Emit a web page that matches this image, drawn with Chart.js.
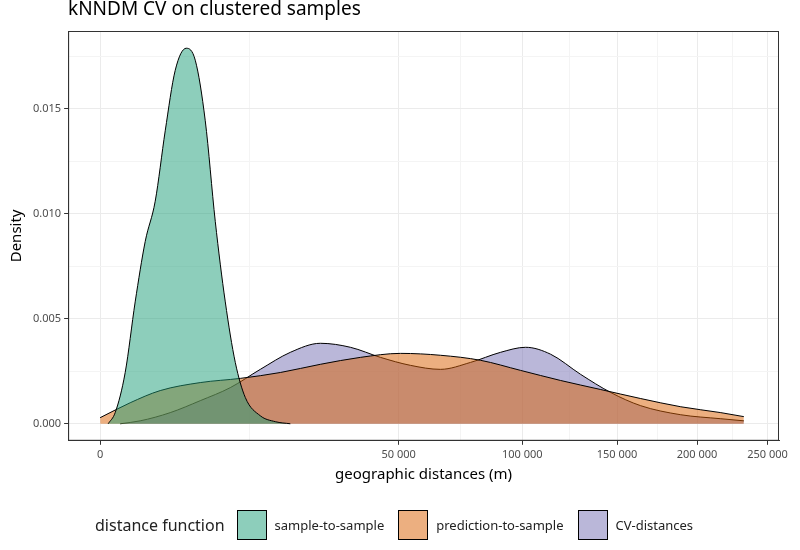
<!DOCTYPE html>
<html><head><meta charset="utf-8">
<script src="https://cdn.jsdelivr.net/npm/chart.js@4"></script>
<style>
body{margin:0;background:#fff;font-family:"Noto Sans",sans-serif;}
#wrap{position:relative;width:800px;height:550px;}
#ttl{position:absolute;left:68px;top:-5px;font-size:19px;color:#000;}
#leg{position:absolute;left:95px;top:510px;display:flex;align-items:center;font-size:13px;color:#222;}
#leg .t{font-size:16px;margin-right:12px;}
#leg .b{width:30px;height:30px;border:1px solid #000;box-sizing:border-box;margin-right:8px;}
#leg .l{margin-right:14px;}
</style></head>
<body><div id="wrap"><canvas id="c" width="800" height="550"></canvas>
<div id="ttl">kNNDM CV on clustered samples</div>
<div id="leg"><span class="t">distance function</span></div></div>
<script>
// distances in metres, density values
var sampleX = [36,127,352,689,1139,1702,2377,3164,4160,5077,6202,7439,8789,10252,11827,14400,17227,20306];
var sampleY = [0,0.00053,0.00244,0.0058,0.00867,0.01059,0.01394,0.01682,0.01787,0.0173,0.01442,0.00963,0.0058,0.00292,0.00125,0.00038,0.0001,0];
var predX = [0,506,2025,5625,11025,18225,27225,38025,50625,65025,81225,99225,119025,140625,164025,189225,216225,232565];
var predY = [0.00029,0.001,0.00158,0.00196,0.00216,0.00244,0.00283,0.00316,0.00335,0.00326,0.00302,0.00254,0.00206,0.00163,0.0012,0.00081,0.00053,0.00034];
var cvX = [225,900,2756,5625,9506,14400,20306,27225,35156,44100,54056,65025,77006,90000,101602,113906,129600,146306,164025,189225,216225,232565];
var cvY = [0,0.00014,0.00053,0.0011,0.00172,0.00259,0.0034,0.00383,0.00364,0.00316,0.00278,0.00259,0.00292,0.0034,0.00364,0.00331,0.00235,0.00149,0.00086,0.00043,0.00024,0.00014];
var seriesNames = ["sample-to-sample","prediction-to-sample","CV-distances"];
var fills = ["rgba(27,158,119,0.5)","rgba(217,95,2,0.5)","rgba(117,112,179,0.5)"];
var xTicks = [0,50000,100000,150000,200000,250000];

function pts(xs,ys){return xs.map(function(x,i){return {x:Math.sqrt(x),y:ys[i]};});}
var majorX = xTicks.map(Math.sqrt);
var xs=[sampleX,predX,cvX], ys=[sampleY,predY,cvY];
var datasets = seriesNames.map(function(n,i){
  return {label:n,data:pts(xs[i],ys[i]),fill:'origin',backgroundColor:fills[i],borderColor:'#000',borderWidth:1,pointRadius:0,cubicInterpolationMode:'monotone'};
});
var leg=document.getElementById('leg');
seriesNames.forEach(function(n,i){
  var b=document.createElement('span');b.className='b';b.style.background=fills[i];leg.appendChild(b);
  var l=document.createElement('span');l.className='l';l.textContent=n;leg.appendChild(l);
});
function fmt(v){return v.toString().replace(/\B(?=(\d{3})+(?!\d))/g,' ');}
function gridCol(c){return c.tick&&c.tick.major?'#ebebeb':'#f4f4f4';}
function tickCol(c){return c.tick&&c.tick.major?'#333':'rgba(0,0,0,0)';}
var box={id:'box',afterDraw:function(ch){var a=ch.chartArea,x=ch.ctx;x.save();x.strokeStyle='#333';x.lineWidth=1;x.strokeRect(a.left+0.5,a.top+0.5,a.right-a.left-1,a.bottom-a.top-1);x.restore();}};

new Chart(document.getElementById('c'),{
  type:'line',
  data:{datasets:datasets},
  plugins:[box],
  options:{
    responsive:false,animation:false,
    layout:{padding:{left:4,right:21,top:31,bottom:62}},
    plugins:{legend:{display:false},tooltip:{enabled:false}},
    scales:{
      x:{type:'linear',min:-24,max:508.6,
        afterBuildTicks:function(a){var t=[];majorX.forEach(function(v,i){t.push({value:v,major:true});if(i<majorX.length-1)t.push({value:(v+majorX[i+1])/2});});a.ticks=t;},
        ticks:{autoSkip:false,maxRotation:0,color:'#4d4d4d',font:{family:'Noto Sans',size:11},callback:function(v,i,t){return t[i].major?fmt(Math.round(v*v)):'';}},
        grid:{color:gridCol,tickColor:tickCol,tickLength:4},
        border:{color:'#333'},
        title:{display:true,text:'geographic distances (m)',color:'#000',font:{family:'Noto Sans',size:15},padding:{top:2}}},
      y:{min:-0.00081,max:0.01869,
        afterBuildTicks:function(a){var t=[];for(var k=0;k<=7;k++){t.push({value:k*0.0025,major:k%2==0});}a.ticks=t;},
        ticks:{autoSkip:false,color:'#4d4d4d',font:{family:'Noto Sans',size:11},callback:function(v,i,t){return t[i].major?v.toFixed(3):'';}},
        grid:{color:gridCol,tickColor:tickCol,tickLength:4},
        border:{color:'#333'},
        title:{display:true,text:'Density',color:'#000',font:{family:'Noto Sans',size:15}}}
    }
  }
});
</script></body></html>
